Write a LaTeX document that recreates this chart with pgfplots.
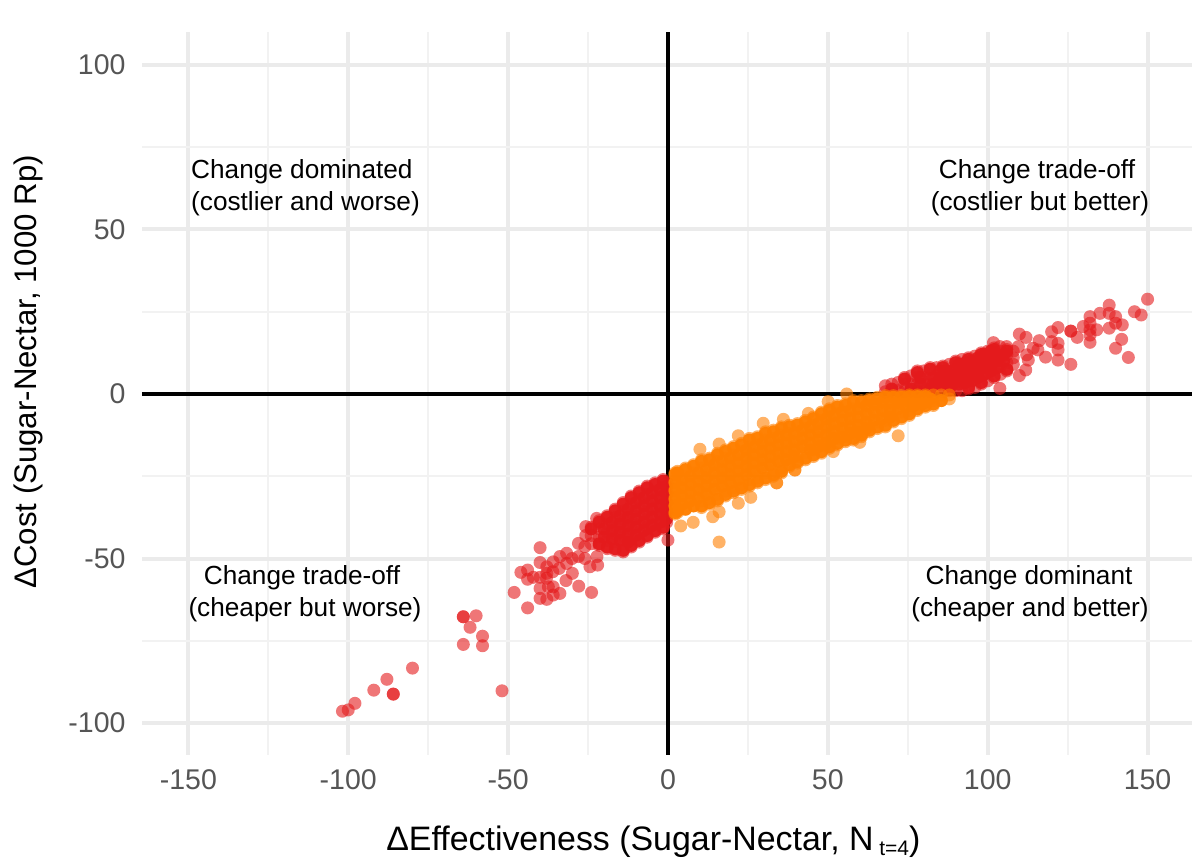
\documentclass[border=0pt]{standalone}
\usepackage{pgfplots}
\pgfplotsset{compat=1.18}
\usepackage{fontspec}
\setmainfont{Liberation Sans}
\definecolor{cred}{HTML}{E41A1C}
\definecolor{corange}{HTML}{FF7F00}
\definecolor{tickgray}{HTML}{555555}
\newcommand{\fs}[1]{\fontsize{#1}{#1}\selectfont}
\begin{document}
\begin{tikzpicture}[x=1pt,y=1pt]
\path[use as bounding box] (0,0) rectangle (1192,861);
\begin{axis}[
  at={(142pt,106pt)}, anchor=south west,
  width=1050pt, height=723pt, scale only axis,
  xmin=-164.5, xmax=163.9, ymin=-109.7, ymax=110,
  axis line style={draw=none},
  major tick style={draw=none}, minor tick style={draw=none},
  xtick={-150,-100,-50,0,50,100,150},
  xticklabels={-150,-100,-50,0,50,100,150},
  ytick={-100,-50,0,50,100},
  yticklabels={-100,-50,0,50,100},
  minor xtick={-125,-75,-25,25,75,125},
  minor ytick={-75,-25,25,75},
  grid=both,
  major grid style={draw=black!8, line width=4pt},
  minor grid style={draw=black!5, line width=2pt},
  xticklabel style={font=\fs{28.5}, text=tickgray, yshift=-11.5pt},
  yticklabel style={font=\fs{28.5}, text=tickgray, xshift=-13pt},
  xlabel={\fs{33.9}ΔEffectiveness (Sugar-Nectar, N\,\raisebox{-0.3ex}{\fs{21}t=4})},
  xlabel style={at={(axis description cs:0.487,-0.12)}, anchor=center},
  ylabel={\fs{31.2}ΔCost (Sugar-Nectar, 1000 Rp)},
  ylabel style={at={(axis description cs:-0.1086,0.53)}, anchor=center},
  clip=true,
]
% red core
\addplot[only marks, mark=*, mark size=6.5pt, mark options={draw opacity=0, fill=cred, fill opacity=0.95}] coordinates {
(-20,-41)(-20,-43.5)(-17.5,-39)(-17.5,-41.5)(-17.5,-44)
(-15,-37)(-15,-39.5)(-15,-42)(-15,-44.5)
(-12.5,-35)(-12.5,-37.5)(-12.5,-40)(-12.5,-42.5)(-12.5,-45)
(-10,-33)(-10,-35.5)(-10,-38)(-10,-40.5)(-10,-43)
(-7.5,-31.5)(-7.5,-34)(-7.5,-36.5)(-7.5,-39)(-7.5,-41.5)
(-5,-30)(-5,-32.5)(-5,-35)(-5,-37.5)(-5,-40)
(-2.5,-29)(-2.5,-31.5)(-2.5,-34)(-2.5,-36.5)(-2.5,-39)
(-0.5,-28)(-0.5,-30.5)(-0.5,-33)(-0.5,-35.5)(-0.5,-38)
(-24,-41)(-21.5,-39)(-19,-37.5)(-16.5,-35.5)(-14,-33.5)(-11.5,-31.5)(-9,-30)(-6.5,-28.5)(-4,-27.5)(-1.5,-26.5)
(-21.5,-45.5)(-19,-46.5)(-16.5,-47)(-14,-47.5)(-11.5,-46)(-9,-44.5)(-6.5,-43)(-4,-41.5)(-1.5,-40.5)
(79,3)(79,5)(83,3)(83,5)(85,3)(85,5)(85,7)(87,3)(87,5)(87,7)(89,3)(89,5)(89,7)
(91,3)(91,5)(91,7)(91,9)(93,3.5)(93,5.5)(93,7.5)(93,9.5)
(95,4)(95,6)(95,8)(95,10)(97,5)(97,7)(97,9)(97,11)
(99,6)(99,8)(99,10)(99,12)(101,7)(101,9)(101,11)(101,13)
(103,8)(103,10)(103,12)(105,10)(105,12)
(74,4.5)(78,6.5)(82,7.5)(86,8)(90,9.5)(94,10.5)(98,12)(102,13.5)(106,13)
(70,1.5)(76,1.5)(82,1.5)(88,1.5)(94,2)(98,3.5)(102,5.5)(106,7.5)
};
% red points
\addplot[only marks, mark=*, mark size=6.5pt, mark options={draw opacity=0, fill=cred, fill opacity=0.6}] coordinates {
(-101.8,-96.4)(-100,-96)(-97.9,-94)(-92,-90)(-87.9,-86.7)(-85.9,-91.2)(-85.9,-91.2)(-79.9,-83.3)
(-64,-67.7)(-64,-67.7)(-60,-67.4)(-61.9,-70.9)(-58,-73.6)(-64,-76.1)(-58,-76.5)(-51.9,-90.2)
(-48.1,-60.3)(-43.9,-65)(-46,-54.2)(-43.9,-53.5)(-43.9,-56.3)(-42.1,-55.7)(-40,-46.7)(-40,-51.2)(-40,-55.7)
(-37.9,-52.5)(-37.9,-54.5)(-40,-59.1)(-40,-62.1)(-37.9,-62.4)(-37.4,-58.6)(-35.9,-61.1)(-33.8,-60.6)(-35.9,-58.6)
(-35.9,-51)(-33.8,-49.4)(-31.7,-48.4)(-31.7,-51.5)(-29.9,-54.5)(-31.9,-56.7)(-27.9,-58.4)(-23.9,-60.3)
(-28,-45.4)(-28,-49.4)(-26,-46.4)(-24.4,-52.5)(-22,-52)(-22.2,-49.4)(-25.7,-40.3)(-25.7,-43)(-22.3,-37.8)
(-38,-56)(-36,-54)(-34,-53)(-30,-50)(-26,-50)(0,-44.4)
(-24,-40.5)(-24,-43)(-24,-45.5)
(-21.5,-38.5)(-21.5,-41)(-21.5,-43.5)(-21.5,-46)
(-19,-37)(-19,-39.5)(-19,-42)(-19,-44.5)(-19,-47)
(-16.5,-35)(-16.5,-37.5)(-16.5,-40)(-16.5,-42.5)(-16.5,-45)(-16.5,-47.5)
(-14,-33)(-14,-35.5)(-14,-38)(-14,-40.5)(-14,-43)(-14,-45.5)(-14,-48)
(-11.5,-31)(-11.5,-33.5)(-11.5,-36)(-11.5,-38.5)(-11.5,-41)(-11.5,-43.5)(-11.5,-46.5)
(-9,-29.5)(-9,-32)(-9,-34.5)(-9,-37)(-9,-39.5)(-9,-42)(-9,-45)
(-6.5,-28)(-6.5,-30.5)(-6.5,-33)(-6.5,-35.5)(-6.5,-38)(-6.5,-40.5)(-6.5,-43.5)
(-4,-27)(-4,-29.5)(-4,-32)(-4,-34.5)(-4,-37)(-4,-39.5)(-4,-42)
(-1.5,-26)(-1.5,-28.5)(-1.5,-31)(-1.5,-33.5)(-1.5,-36)(-1.5,-38.5)(-1.5,-41)
(-0.4,-27)(-0.4,-30)(-0.4,-33)(-0.4,-36)(-0.4,-39)
(150,28.8)(145.9,25)(148,24)(138,27)(135.1,24.5)(132,23.5)(132,21.5)(129.9,20.5)(132,19.5)(134.1,19.5)
(138,24.5)(140,23.5)(140,21.5)(142.1,21)(138,20)(141.9,16.6)(140,13.9)(144,11.1)(132,15.7)(132,17.9)(128,17.2)
(126,19.1)(126,19.1)(126,9)(122,20.2)(120,18.9)(120,15.9)(122,15.4)(122,13.4)(122,10.3)(118.1,11.2)
(116.1,16.2)(114.2,13.9)(115.7,13.4)(112.2,11.9)(112,17.2)(109.9,18.2)(111.9,7.3)(109.9,5.6)(109.6,14.4)(112.7,10.3)
(103.8,1.7)(101.8,15.6)(105.9,14.4)(103.8,14.4)
(68,0.7)(68,2.5)(70,1)(70,3)(72,1)(72,3.5)(74,0.8)(74,3)(74,5)(76,1)(76,3)(76,5.5)
(78,0.8)(78,3)(78,5)(78,7)(80,1)(80,3)(80,5)(80,7)(82,0.8)(82,3)(82,5.5)(82,8)
(84,1)(84,3)(84,5.5)(84,8)(86,0.8)(86,3)(86,5.5)(86,8.5)(88,1)(88,3.5)(88,6)(88,9)
(90,1)(90,3.5)(90,6)(90,8.5)(90,10)(92,1)(92,3.5)(92,6)(92,8.5)(92,10.5)
(94,1.5)(94,4)(94,6.5)(94,9)(94,11)(96,2)(96,4.5)(96,7)(96,9.5)(96,11.5)
(98,3)(98,5.5)(98,8)(98,10.5)(98,12.5)(100,4)(100,6.5)(100,9)(100,11.5)(100,13)
(102,5)(102,7.5)(102,10)(102,12.5)(102,14)(104,6)(104,8.5)(104,11)(104,13)
(106,7)(106,9.5)(106,12)(106,13.5)(108,9)(108,11)(108,13)
};
% orange core
\addplot[only marks, mark=*, mark size=6.5pt, mark options={draw opacity=0, fill=corange, fill opacity=0.95}] coordinates {
(2.2,-27)(2.2,-29.5)(2.2,-32)(2.2,-34)(4.5,-26)(4.5,-28.5)(4.5,-31)(4.5,-33.5)
(7,-25)(7,-27.5)(7,-30)(7,-32.5)(9.5,-24)(9.5,-26.5)(9.5,-29)(9.5,-31.5)
(12,-23)(12,-25.5)(12,-28)(12,-30.5)(14.5,-21.5)(14.5,-24)(14.5,-26.5)(14.5,-29)
(17,-20.5)(17,-23)(17,-25.5)(17,-28)(19.5,-19.5)(19.5,-22)(19.5,-24.5)(19.5,-27)
(22,-18.5)(22,-21)(22,-23.5)(22,-26)(24.5,-17)(24.5,-19.5)(24.5,-22)(24.5,-24.5)
(27,-16)(27,-18.5)(27,-21)(27,-23.5)(29.5,-15)(29.5,-17.5)(29.5,-20)(29.5,-22.5)
(32,-14)(32,-16.5)(32,-19)(32,-21.5)(34.5,-13)(34.5,-15.5)(34.5,-18)(34.5,-20.5)
(37,-12.5)(37,-15)(37,-17.5)(37,-20)(39.5,-12)(39.5,-14.5)(39.5,-17)(39.5,-19)
(42,-11)(42,-13.5)(42,-16)(44.5,-10)(44.5,-12.5)(44.5,-15)(44.5,-17)
(47,-9)(47,-11.5)(47,-14)(47,-16)(49.5,-7.5)(49.5,-10)(49.5,-12.5)(49.5,-15)
(52,-6.5)(52,-9)(52,-11.5)(52,-13.5)(54.5,-5.5)(54.5,-8)(54.5,-10.5)(54.5,-13)
(57,-5)(57,-7.5)(57,-10)(57,-12)(59.5,-4.5)(59.5,-7)(59.5,-9.5)(59.5,-11.5)
(62,-3.5)(62,-6)(62,-8.5)(62,-10.5)(64.5,-3)(64.5,-5.5)(64.5,-8)
(67,-2.5)(67,-5)(67,-7.5)(69.5,-2.5)(69.5,-5)(69.5,-7)(72,-2.5)(72,-4.5)
(74.5,-2)(74.5,-4)(77,-2)(77,-3.5)(79.5,-1.5)(79.5,-3)(82,-1.5)
(2.2,-24.5)(5.5,-23)(10.5,-20.5)(15.5,-18.5)(20.5,-16.5)(25.5,-14)(30.5,-12)(35.5,-10.5)(40.5,-9.5)(45.5,-7.5)(50.5,-5)(55.5,-3.5)(60.5,-2.5)(65.5,-1.5)(70.5,-1)(75.5,-0.8)(80.5,-0.8)
(3,-24)(8,-22)(13,-20)(18,-17.5)(23,-15.5)(28,-13.5)(33,-11.5)(38,-10)(43,-8.5)(48,-6)(53,-4)(58,-2.5)(63,-2)(68,-1)(73,-1)(78,-0.8)
(2.2,-36)(3,-35.5)(5.5,-35)(8,-34)(10.5,-34)(13,-33)(15.5,-32)(18,-30.5)(20.5,-29.5)(23,-28.5)(25.5,-27.5)(28,-26.5)(30.5,-25.5)(33,-24.5)(35.5,-23.5)(38,-21.5)(40.5,-20.5)(43,-19.5)(45.5,-18.5)(48,-17.5)(50.5,-16)(53,-15)(55.5,-14)(58,-13.5)(60.5,-12.5)(63,-11)(65.5,-10)(68,-9.5)(70.5,-8)(73,-7)(75.5,-6)(78,-4.5)(80.5,-3.5)(83,-3)(85.5,-2)
};
% orange points
\addplot[only marks, mark=*, mark size=6.5pt, mark options={draw opacity=0, fill=corange, fill opacity=0.6}] coordinates {
(16,-45)(4,-40.1)(7.9,-39)(14,-37.3)(16,-35.8)(22,-33.2)(25.9,-31.4)(34,-27)(34,-27)(39.7,-23.1)(39.7,-23.1)
(51.7,-17.5)(60,-14.7)(72,-12.7)(10,-16.8)(16,-15.2)(22,-12.7)(29.8,-8.9)(36.1,-7.7)(43.9,-5.9)(50.1,-2.3)(55.9,0)
(2.2,-24)(2.2,-26.5)(2.2,-29)(2.2,-31.5)(2.2,-34)(2.2,-36.5)
(3,-23.5)(3,-26)(3,-28.5)(3,-31)(3,-33.5)(3,-36)
(5.5,-22.5)(5.5,-25)(5.5,-27.5)(5.5,-30)(5.5,-32.5)(5.5,-35)
(8,-21.5)(8,-24)(8,-26.5)(8,-29)(8,-31.5)(8,-34)
(10.5,-20)(10.5,-22.5)(10.5,-25)(10.5,-27.5)(10.5,-30)(10.5,-32.5)(10.5,-34.5)
(13,-19.5)(13,-22)(13,-24.5)(13,-27)(13,-29.5)(13,-32)(13,-33.5)
(15.5,-18)(15.5,-20.5)(15.5,-23)(15.5,-25.5)(15.5,-28)(15.5,-30.5)(15.5,-32.5)
(18,-17)(18,-19.5)(18,-22)(18,-24.5)(18,-27)(18,-29.5)(18,-31)
(20.5,-16)(20.5,-18.5)(20.5,-21)(20.5,-23.5)(20.5,-26)(20.5,-28.5)(20.5,-30)
(23,-15)(23,-17.5)(23,-20)(23,-22.5)(23,-25)(23,-27.5)(23,-29)
(25.5,-13.5)(25.5,-16)(25.5,-18.5)(25.5,-21)(25.5,-23.5)(25.5,-26)(25.5,-28)
(28,-13)(28,-15.5)(28,-18)(28,-20.5)(28,-23)(28,-25.5)(28,-27)
(30.5,-11.5)(30.5,-14)(30.5,-16.5)(30.5,-19)(30.5,-21.5)(30.5,-24)(30.5,-26)
(33,-11)(33,-13.5)(33,-16)(33,-18.5)(33,-21)(33,-23.5)(33,-25)
(35.5,-10)(35.5,-12.5)(35.5,-15)(35.5,-17.5)(35.5,-20)(35.5,-22.5)(35.5,-24)
(38,-9.5)(38,-12)(38,-14.5)(38,-17)(38,-19.5)(38,-22)
(40.5,-9)(40.5,-11.5)(40.5,-14)(40.5,-16.5)(40.5,-19)(40.5,-21)
(43,-8)(43,-10.5)(43,-13)(43,-15.5)(43,-18)(43,-20)
(45.5,-7)(45.5,-9.5)(45.5,-12)(45.5,-14.5)(45.5,-17)(45.5,-19)
(48,-5.5)(48,-8)(48,-10.5)(48,-13)(48,-15.5)(48,-18)
(50.5,-4.5)(50.5,-7)(50.5,-9.5)(50.5,-12)(50.5,-14.5)(50.5,-16.5)
(53,-3.5)(53,-6)(53,-8.5)(53,-11)(53,-13.5)(53,-15.5)
(55.5,-3)(55.5,-5.5)(55.5,-8)(55.5,-10.5)(55.5,-13)(55.5,-14.5)
(58,-2)(58,-4.5)(58,-7)(58,-9.5)(58,-12)(58,-14)
(60.5,-2)(60.5,-4.5)(60.5,-7)(60.5,-9.5)(60.5,-12)(60.5,-13)
(63,-1.5)(63,-4)(63,-6.5)(63,-9)(63,-11.5)
(65.5,-1)(65.5,-3.5)(65.5,-6)(65.5,-8.5)(65.5,-10.5)
(68,-0.5)(68,-3)(68,-5.5)(68,-8)(68,-10)
(70.5,-0.5)(70.5,-3)(70.5,-5.5)(70.5,-8.5)
(73,-0.5)(73,-3)(73,-5.5)(73,-7.5)
(75.5,-0.3)(75.5,-2.5)(75.5,-5)(75.5,-6.5)
(78,-0.3)(78,-2.5)(78,-5)(80.5,-0.3)(80.5,-2.5)(80.5,-4)
(83,-0.3)(83,-2)(83,-3.5)(85.5,-0.3)(85.5,-2)(88,-0.3)(88,-1.5)
};
\draw[black, line width=3.6pt] (axis cs:0,-109.7) -- (axis cs:0,110);
\draw[black, line width=3.6pt] (axis cs:-164.5,0) -- (axis cs:163.9,0);
\end{axis}
% annotation lines, placed by picture position (page px, y up)
\node[anchor=west, inner sep=0, font=\fs{26.2}] at (191,689) {Change dominated};
\node[anchor=west, inner sep=0, font=\fs{26.2}] at (191,657) {(costlier and worse)};
\node[inner sep=0, font=\fs{26.2}] at (1037,689) {Change trade-off};
\node[inner sep=0, font=\fs{26.2}] at (1040,657) {(costlier but better)};
\node[inner sep=0, font=\fs{26.2}] at (302,283) {Change trade-off};
\node[inner sep=0, font=\fs{26.2}] at (305,251) {(cheaper but worse)};
\node[inner sep=0, font=\fs{26.2}] at (1029,283) {Change dominant};
\node[inner sep=0, font=\fs{26.2}] at (1030,251) {(cheaper and better)};
\end{tikzpicture}
\end{document}
